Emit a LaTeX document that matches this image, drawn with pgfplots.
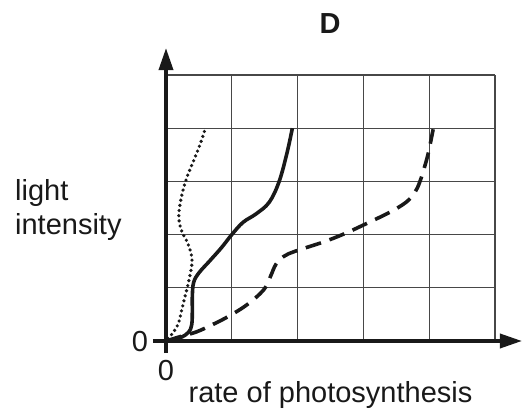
\documentclass[border=0pt]{standalone}
\usepackage{pgfplots}
\pgfplotsset{compat=1.18}
\usetikzlibrary{arrows.meta}
\usepackage{fontspec}
\setmainfont{Liberation Sans}
\newcommand{\bigf}{\fontsize{29}{33}\selectfont}
\begin{document}
\begin{tikzpicture}
\begin{axis}[
  x=65.8pt, y=53.2pt,
  xmin=-0.2, xmax=5.4, ymin=-0.23, ymax=5.52,
  hide axis,
  clip=false,
]
% grid
\draw[black!72, line width=1.1pt] (axis cs:1,0) -- (axis cs:1,5);
\draw[black!72, line width=1.1pt] (axis cs:2,0) -- (axis cs:2,5);
\draw[black!72, line width=1.1pt] (axis cs:3,0) -- (axis cs:3,5);
\draw[black!72, line width=1.1pt] (axis cs:4,0) -- (axis cs:4,5);
\draw[black!72, line width=1.1pt] (axis cs:5,0) -- (axis cs:5,5);
\draw[black!72, line width=1.1pt] (axis cs:0,1) -- (axis cs:5,1);
\draw[black!72, line width=1.1pt] (axis cs:0,2) -- (axis cs:5,2);
\draw[black!72, line width=1.1pt] (axis cs:0,3) -- (axis cs:5,3);
\draw[black!72, line width=1.1pt] (axis cs:0,4) -- (axis cs:5,4);
\draw[black!72, line width=1.1pt] (axis cs:0,5) -- (axis cs:5,5);

% dotted curve
\addplot[black!90, line width=3.6pt, line cap=round, dash pattern=on 0pt off 5.2pt, smooth, tension=0.6] coordinates {
(0.03,0.05) (0.11,0.16) (0.19,0.34) (0.24,0.59) (0.29,0.84) (0.34,1.09)
(0.39,1.41) (0.39,1.59) (0.33,1.84) (0.25,2.03) (0.20,2.25) (0.20,2.45)
(0.24,2.74) (0.31,3.05) (0.41,3.36) (0.51,3.67) (0.60,4.0)};

% solid curve
\addplot[black!90, line width=3.6pt, smooth, tension=0.6] coordinates {
(0,0) (0.21,0.06) (0.34,0.16) (0.39,0.3) (0.40,0.55) (0.40,0.84) (0.42,1.1)
(0.5,1.28) (0.66,1.5) (0.84,1.75) (1.0,2.0) (1.17,2.23) (1.37,2.39)
(1.57,2.61) (1.72,3.0) (1.84,3.54) (1.92,4.0)};

% dashed curve
\addplot[black!90, line width=3.6pt, dash pattern=on 16pt off 9pt, smooth, tension=0.6] coordinates {
(0,0) (0.21,0.08) (0.46,0.17) (0.71,0.31) (0.96,0.47) (1.24,0.69) (1.49,0.97)
(1.59,1.22) (1.67,1.44) (1.79,1.59) (1.97,1.69) (2.39,1.86) (2.70,2.01)
(3.0,2.18) (3.40,2.42) (3.65,2.61) (3.78,2.79) (3.86,3.0) (3.95,3.36)
(4.0,3.61) (4.06,3.98)};

% axes
\draw[black!90, line width=3.5pt, -{Triangle[length=22pt,width=14pt]}] (axis cs:-0.2,0) -- (axis cs:5.41,0);
\draw[black!90, line width=3.5pt, -{Triangle[length=22pt,width=14pt]}] (axis cs:0,-0.23) -- (axis cs:0,5.507);

% texts
\node[black!90, inner sep=0pt, font=\bigf\bfseries] at (axis cs:2.492,5.959) {D};
\node[black!90, inner sep=0pt, anchor=base west, font=\bigf] at (axis cs:-2.295,2.632) {light};
\node[black!90, inner sep=0pt, anchor=base west, font=\bigf] at (axis cs:-2.295,2.011) {intensity};
\node[black!90, inner sep=0pt, font=\bigf] at (axis cs:-0.395,-0.019) {0};
\node[black!90, inner sep=0pt, font=\bigf] at (axis cs:0,-0.564) {0};
\node[black!90, inner sep=0pt, anchor=base, font=\bigf] at (axis cs:2.5,-1.165) {rate of photosynthesis};

\coordinate (BL) at (axis cs:-2.5228,-1.297);
\coordinate (TR) at (axis cs:5.4255,6.4098);
\end{axis}
\pgfresetboundingbox
\path[use as bounding box] (BL) rectangle (TR);
\end{tikzpicture}
\end{document}
